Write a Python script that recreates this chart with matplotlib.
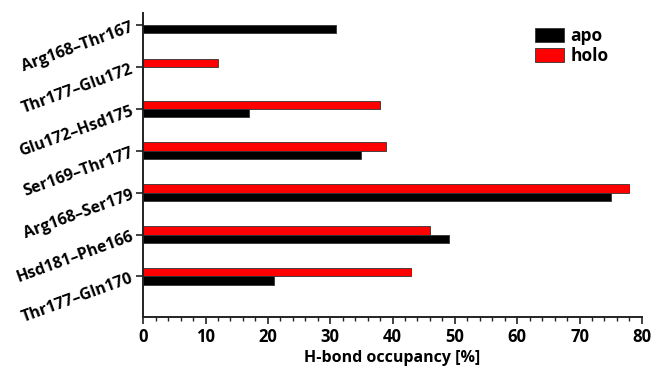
import matplotlib.pyplot as plt
import numpy as np

plt.rcParams['font.family'] = ['Open Sans', 'DejaVu Sans']

# H-bond pairs, listed bottom to top
pairs = ['Thr177–Gln170', 'Hsd181–Phe166', 'Arg168–Ser179', 'Ser169–Thr177',
         'Glu172–Hsd175', 'Thr177–Glu172', 'Arg168–Thr167']
apo = [21, 49, 75, 35, 17, 0, 31]
holo = [43, 46, 78, 39, 38, 12, 0]

y = np.arange(len(pairs))
h = 0.2
wt = 'bold'

fig = plt.figure(figsize=(6.51, 3.70), dpi=100)
ax = fig.add_axes([0.22, 0.144, 0.766, 0.821])

ax.barh(y + h/2, holo, h, color='#ff0000', edgecolor='#333333', linewidth=0.6, label='holo')
ax.barh(y - h/2, apo, h, color='black', edgecolor='#333333', linewidth=0.6, label='apo')

ax.set_xlim(0, 80)
ax.set_ylim(-0.96, 6.29)
ax.set_xticks(np.arange(0, 81, 10))
ax.set_xticks(np.arange(0, 81, 2), minor=True)
ax.set_yticks(y)
ax.set_yticklabels(pairs, rotation=20, ha='right', rotation_mode='anchor',
                   fontsize=11.5, fontweight=wt)
for lbl in ax.get_xticklabels():
    lbl.set_fontsize(12)
    lbl.set_fontweight(wt)

ax.spines['top'].set_visible(False)
ax.spines['right'].set_visible(False)
for s in ('left', 'bottom'):
    ax.spines[s].set_linewidth(1.4)
    ax.spines[s].set_color('#222222')
ax.tick_params(axis='both', which='major', length=5, width=1.2, direction='out', colors='#222222')
ax.tick_params(axis='x', which='minor', length=3, width=1.0, colors='#222222')
ax.tick_params(axis='y', pad=3, labelcolor='black')
ax.tick_params(axis='x', labelcolor='black', pad=3)

ax.set_xlabel('H-bond occupancy [%]', fontsize=11.5, fontweight=wt, labelpad=3)

handles, labels = ax.get_legend_handles_labels()
ax.legend(handles[::-1], labels[::-1], loc='upper right', bbox_to_anchor=(0.965, 1.005),
          frameon=False, handlelength=1.65, handleheight=0.85,
          labelspacing=0.1, handletextpad=0.4, prop={'weight': wt, 'size': 12.5})

fig.savefig('out.png', dpi=100)
